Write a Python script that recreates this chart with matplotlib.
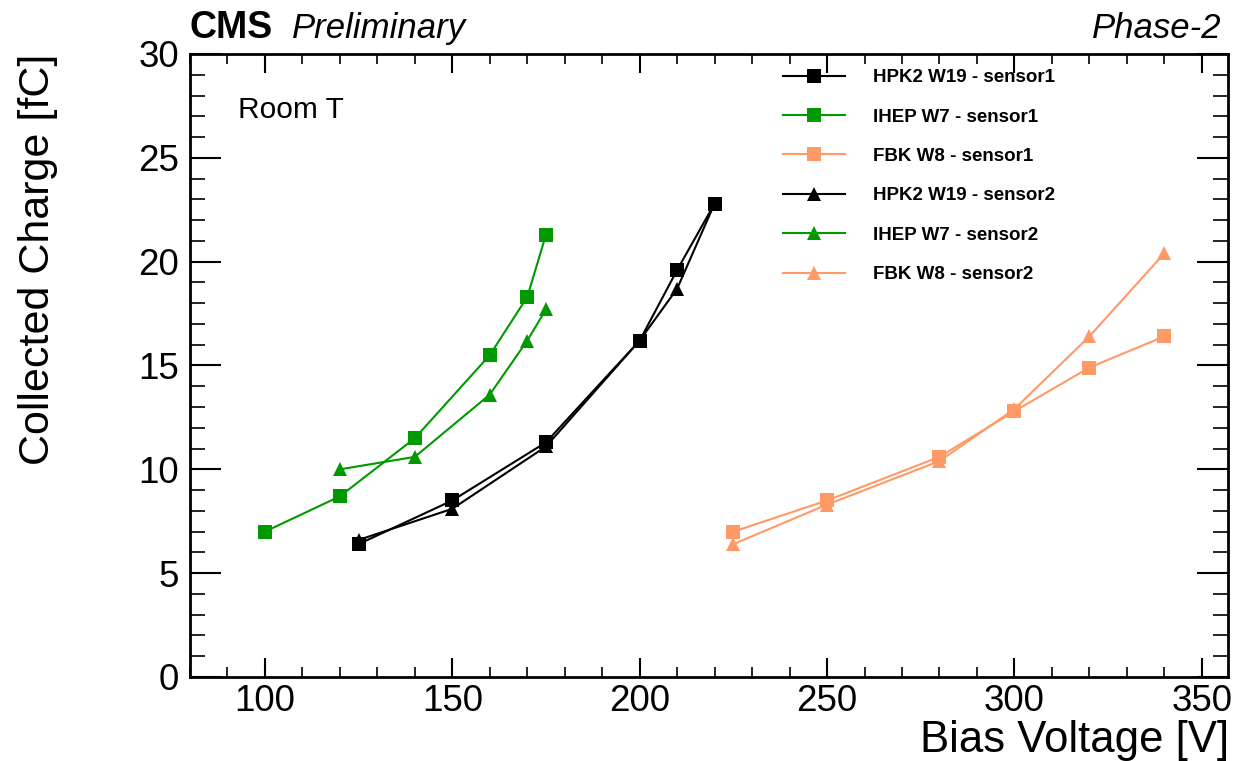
import matplotlib
matplotlib.use("Agg")
import matplotlib.pyplot as plt
from matplotlib.ticker import MultipleLocator

plt.rcParams['font.family'] = ['Liberation Sans', 'DejaVu Sans']

# Data
hpk_s1_x = [125, 150, 175, 200, 210, 220]
hpk_s1_y = [6.4, 8.5, 11.3, 16.2, 19.6, 22.8]
ihep_s1_x = [100, 120, 140, 160, 170, 175]
ihep_s1_y = [7.0, 8.7, 11.5, 15.5, 18.3, 21.3]
fbk_s1_x = [225, 250, 280, 300, 320, 340]
fbk_s1_y = [7.0, 8.5, 10.6, 12.8, 14.9, 16.4]
hpk_s2_x = [125, 150, 175, 200, 210, 220]
hpk_s2_y = [6.6, 8.1, 11.1, 16.2, 18.7, 22.8]
ihep_s2_x = [120, 140, 160, 170, 175]
ihep_s2_y = [10.0, 10.6, 13.6, 16.2, 17.7]
fbk_s2_x = [225, 250, 280, 300, 320, 340]
fbk_s2_y = [6.4, 8.3, 10.4, 12.9, 16.4, 20.4]

labels = ["HPK2 W19 - sensor1", "IHEP W7 - sensor1", "FBK W8 - sensor1",
          "HPK2 W19 - sensor2", "IHEP W7 - sensor2", "FBK W8 - sensor2"]

black = "#000000"
green = "#009900"
salmon = "#FF9966"

W, H = 1233, 761
fig = plt.figure(figsize=(W / 100, H / 100), dpi=100)
ax = fig.add_axes([190 / W, 1 - 677 / H, (1228 - 190) / W, (677 - 54) / H])

series = [
    (hpk_s1_x, hpk_s1_y, black, 's', 10),
    (ihep_s1_x, ihep_s1_y, green, 's', 10),
    (fbk_s1_x, fbk_s1_y, salmon, 's', 10),
    (hpk_s2_x, hpk_s2_y, black, '^', 10),
    (ihep_s2_x, ihep_s2_y, green, '^', 10),
    (fbk_s2_x, fbk_s2_y, salmon, '^', 10),
]
for (x, y, c, m, ms), lab in zip(series, labels):
    ax.plot(x, y, color=c, marker=m, markersize=ms, linewidth=1.5,
            markeredgewidth=0, label=lab)

ax.set_xlim(80, 357)
ax.set_ylim(0, 30)
ax.xaxis.set_major_locator(MultipleLocator(50))
ax.xaxis.set_minor_locator(MultipleLocator(10))
ax.yaxis.set_major_locator(MultipleLocator(5))
ax.yaxis.set_minor_locator(MultipleLocator(1))

for sp in ax.spines.values():
    sp.set_linewidth(2)
ax.tick_params(axis='x', which='major', direction='in', length=14, width=1.5,
               top=True, labelsize=26.5, pad=5)
ax.tick_params(axis='x', which='minor', direction='in', length=7, width=1.2, top=True)
ax.tick_params(axis='y', which='major', direction='in', length=22, width=1.5,
               right=True, labelsize=26.5, pad=8)
ax.tick_params(axis='y', which='minor', direction='in', length=11, width=1.2, right=True)

fig.text(1229 / W, 1 - 752 / H, "Bias Voltage [V]", fontsize=31.5,
         ha='right', va='baseline')
fig.text(38 / W, 1 - 54 / H, "Collected Charge [fC]", fontsize=31,
         rotation=90, ha='center', va='top')

fig.text(190 / W, 1 - 38 / H, "CMS", fontsize=27, fontweight='bold', ha='left', va='baseline')
fig.text(292 / W, 1 - 38 / H, "Preliminary", fontsize=25, style='italic', ha='left', va='baseline')
fig.text(1222 / W, 1 - 38 / H, "Phase-2", fontsize=25, style='italic', ha='right', va='baseline')
fig.text(238 / W, 1 - 118 / H, "Room T", fontsize=21.5, ha='left', va='baseline')

leg = ax.legend(loc='upper left', bbox_to_anchor=(783 / W, 1 - 69 / H),
                bbox_transform=fig.transFigure, frameon=False,
                prop={'size': 13.5, 'weight': 'bold'}, handlelength=3.3,
                handletextpad=1.5, labelspacing=1.19, borderpad=0, borderaxespad=0)

fig.savefig("out.png", dpi=100)
